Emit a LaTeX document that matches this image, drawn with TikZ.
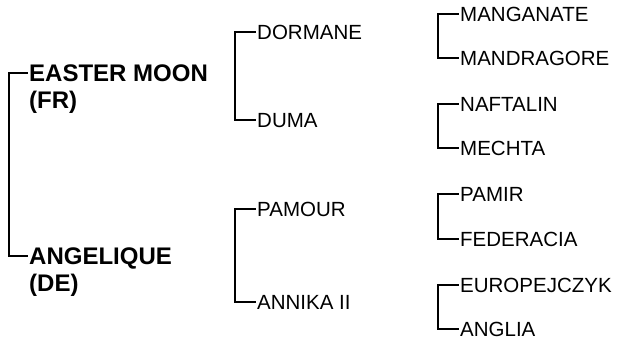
\documentclass[tikz,border=0pt]{standalone}
\usepackage{fontspec}
\setmainfont{Liberation Sans}
\begin{document}
\begin{tikzpicture}[x=1pt,y=-1pt,
  horse/.style={anchor=west,inner xsep=1.5pt,inner ysep=0pt,text height=14.7pt,text depth=0pt,font=\fontsize{20.5}{24}\selectfont},
  parent/.style={anchor=base west,inner xsep=1.5pt,inner ysep=0pt,align=left,font=\fontsize{24}{27}\selectfont\bfseries},
  bracket/.style={line width=2.8pt}]
  \useasboundingbox (0,0) rectangle (626,342);
  % parents (base = last line)
  \node[parent] (easter) at (27.5,108.6) {EASTER MOON\\(FR)};
  \node[parent] (angel) at (27.5,291.6) {ANGELIQUE\\(DE)};
  % grandparents
  \node[horse] (dormane) at (255.5,32) {DORMANE};
  \node[horse] (duma) at (255.5,120) {DUMA};
  \node[horse] (pamour) at (255.5,209) {PAMOUR};
  \node[horse] (annika) at (255.5,302) {ANNIKA II};
  % great-grandparents
  \node[horse] (manganate) at (458.5,14) {MANGANATE};
  \node[horse] (mandragore) at (458.5,58) {MANDRAGORE};
  \node[horse] (naftalin) at (458.5,104) {NAFTALIN};
  \node[horse] (mechta) at (458.5,148) {MECHTA};
  \node[horse] (pamir) at (458.5,194) {PAMIR};
  \node[horse] (federacia) at (458.5,239) {FEDERACIA};
  \node[horse] (europ) at (458.5,285) {EUROPEJCZYK};
  \node[horse] (anglia) at (458.5,329) {ANGLIA};
  % brackets
  \draw[bracket] ([yshift=35.6pt]easter.base west) -- ++(-18.5,0) |- ([yshift=35.6pt]angel.base west);
  \draw[bracket] (dormane.west) -- ++(-20.5,0) |- (duma.west);
  \draw[bracket] (pamour.west) -- ++(-20.5,0) |- (annika.west);
  \draw[bracket] (manganate.west) -- ++(-20.5,0) |- (mandragore.west);
  \draw[bracket] (naftalin.west) -- ++(-20.5,0) |- (mechta.west);
  \draw[bracket] (pamir.west) -- ++(-20.5,0) |- (federacia.west);
  \draw[bracket] (europ.west) -- ++(-20.5,0) |- (anglia.west);
\end{tikzpicture}
\end{document}
